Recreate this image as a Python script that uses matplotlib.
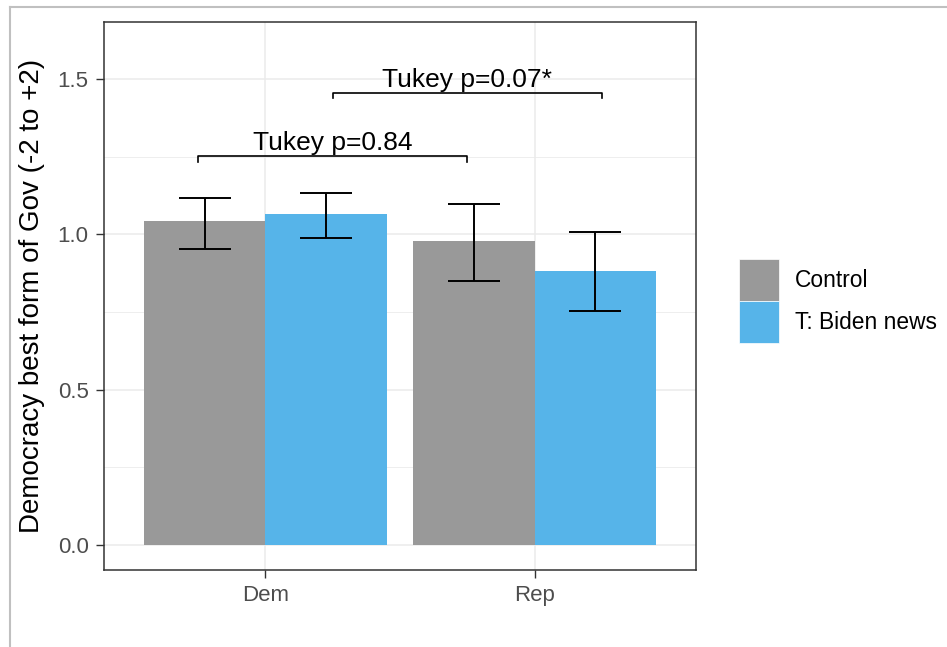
import numpy as np
import matplotlib.pyplot as plt
from matplotlib.patches import Patch
from matplotlib.lines import Line2D

plt.rcParams['font.family'] = ['Liberation Sans', 'DejaVu Sans']

# data
parties = ['Dem', 'Rep']
groups = ['Control', 'T: Biden news']
means = {'Control': [1.042, 0.978], 'T: Biden news': [1.064, 0.883]}
err_lo = {'Control': [0.953, 0.851], 'T: Biden news': [0.989, 0.754]}
err_hi = {'Control': [1.116, 1.097], 'T: Biden news': [1.134, 1.006]}
colors = {'Control': '#999999', 'T: Biden news': '#56B4E9'}

# pairwise comparison brackets: (x start, x end, height, label)
brackets = [(0.75, 1.75, 1.252, 'Tukey p=0.84'),
            (1.25, 2.25, 1.455, 'Tukey p=0.07*')]

fig = plt.figure(figsize=(9.47, 6.47), dpi=100)
ax = fig.add_axes([104 / 947, 1 - 570 / 647, 592 / 947, 548 / 647])

x = np.arange(1, len(parties) + 1)
w = 0.45
for i, g in enumerate(groups):
    xs = x + (i - 0.5) * w
    m = np.array(means[g])
    ax.bar(xs, m, width=w, color=colors[g], zorder=2, label=g)
    yerr = [m - np.array(err_lo[g]), np.array(err_hi[g]) - m]
    ax.errorbar(xs, m, yerr=yerr, fmt='none', ecolor='black',
                elinewidth=1.4, capsize=18.5, capthick=1.4, zorder=3)

tick = 0.018
for x0, x1, h, lab in brackets:
    ax.plot([x0, x0, x1, x1], [h - tick, h, h, h - tick],
            color='black', lw=1.2, zorder=3)
    ax.text((x0 + x1) / 2, h + 0.019, lab, ha='center', va='baseline',
            fontsize=19, color='black', zorder=4)

ax.set_xlim(0.4, 2.6)
ax.set_ylim(-0.08, 1.683)
ax.set_xticks(x)
ax.set_xticklabels(parties)
ax.set_yticks([0.0, 0.5, 1.0, 1.5])
ax.set_yticklabels(['0.0', '0.5', '1.0', '1.5'])
ax.set_yticks([0.25, 0.75, 1.25], minor=True)
ax.grid(True, which='major', color='#EBEBEB', lw=1.1, zorder=0)
ax.grid(True, which='minor', axis='y', color='#EBEBEB', lw=0.6, zorder=0)
ax.set_axisbelow(True)
ax.tick_params(axis='both', which='major', labelsize=16, labelcolor='#4D4D4D',
               color='#333333', length=6, width=1, pad=5)
ax.tick_params(axis='y', which='minor', length=0)
for s in ax.spines.values():
    s.set_color('#333333')
    s.set_linewidth(1.1)
ax.set_ylabel('Democracy best form of Gov (-2 to +2)', fontsize=20,
              color='black', labelpad=9)

handles = [Patch(facecolor=colors[g], edgecolor='white', lw=0.5) for g in groups]
fig.legend(handles, groups, loc='center left',
           bbox_to_anchor=(728 / 947, 1 - 301 / 647), frameon=False,
           fontsize=16.4, handlelength=1.75, handleheight=2.46,
           handletextpad=0.7, labelspacing=0.0, borderpad=0)

# light frame around the screenshot
fig.add_artist(Line2D([10 / 947, 1], [1 - 6.5 / 647, 1 - 6.5 / 647],
                      transform=fig.transFigure, color='#C0C0C0', lw=1.5))
fig.add_artist(Line2D([10 / 947, 10 / 947], [0, 1 - 6.5 / 647],
                      transform=fig.transFigure, color='#C0C0C0', lw=1.5))

fig.savefig('out.png', dpi=100)
